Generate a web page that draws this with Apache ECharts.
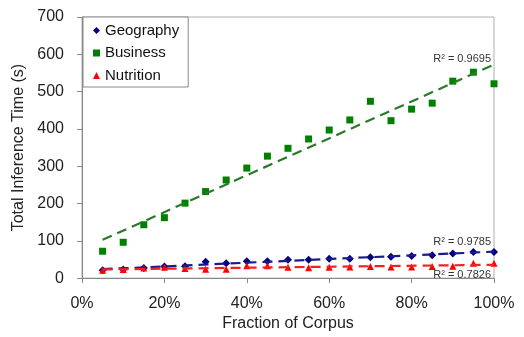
<!DOCTYPE html>
<html>
<head>
<meta charset="utf-8">
<script src="https://cdn.jsdelivr.net/npm/echarts@6/dist/echarts.min.js"></script>
<style>
  html, body { margin: 0; padding: 0; background: #fff; }
  #chart { width: 524px; height: 337px; }
</style>
</head>
<body>
<div id="chart"></div>
<script>
// Fraction of corpus used (x values)
const fractions = [0.05, 0.10, 0.15, 0.20, 0.25, 0.30, 0.35, 0.40, 0.45, 0.50,
                   0.55, 0.60, 0.65, 0.70, 0.75, 0.80, 0.85, 0.90, 0.95, 1.00];

// Total inference time in seconds, per domain
const geography = [21, 23, 27, 31, 32, 44, 40, 45, 45, 49,
                   49, 52, 52, 56, 57, 59, 61, 66, 70, 70];
const business  = [72, 96, 143, 162, 201, 232, 263, 295, 327, 348,
                   373, 397, 424, 474, 422, 453, 469, 528, 552, 521];
const nutrition = [21, 23, 27, 29, 26, 24, 24, 33, 33, 29,
                   28, 29, 30, 31, 30, 30, 31, 32, 40, 40];

// Coefficient of determination shown beside each trend line
const r2Labels = { Geography: 'R² = 0.9785', Business: 'R² = 0.9695', Nutrition: 'R² = 0.7826' };

const xTicks = [0, 0.2, 0.4, 0.6, 0.8, 1.0];

const colors = { Geography: '#000080', Business: '#008000', Nutrition: '#ff0000' };
const trendColors = { Geography: '#1a1a8c', Business: '#2a7a2a', Nutrition: '#ee2222' };

const font = 'Liberation Sans, Arial, sans-serif';

function pairs(ys) { return fractions.map((x, i) => [x, ys[i]]); }

// Least-squares linear fit, evaluated at the first and last x
function linearFit(ys) {
  const n = fractions.length;
  let sx = 0, sy = 0, sxx = 0, sxy = 0;
  for (let i = 0; i < n; i++) {
    sx += fractions[i]; sy += ys[i];
    sxx += fractions[i] * fractions[i]; sxy += fractions[i] * ys[i];
  }
  const b = (n * sxy - sx * sy) / (n * sxx - sx * sx);
  const a = (sy - b * sx) / n;
  const x0 = fractions[0], x1 = fractions[n - 1];
  return [[x0, a + b * x0], [x1, a + b * x1]];
}

function trendSeries(name, ys, labelPos, labelOffset) {
  const ends = linearFit(ys);
  return {
    name: name + ' trend',
    type: 'line',
    data: [
      { value: ends[0] },
      {
        value: ends[1],
        label: {
          show: true,
          formatter: r2Labels[name],
          position: labelPos,
          distance: 4,
          align: 'right',
          offset: labelOffset,
          color: '#333',
          fontSize: 11,
          fontFamily: font
        }
      }
    ],
    showSymbol: true,
    symbol: 'circle',
    symbolSize: 0.01,
    itemStyle: { color: 'rgba(0,0,0,0)' },
    silent: true,
    z: 3,
    lineStyle: { color: trendColors[name], width: 2.2, type: [10, 6] },
    animation: false
  };
}

const chart = echarts.init(document.getElementById('chart'), null, { renderer: 'canvas' });
chart.setOption({
  animation: false,
  backgroundColor: '#fff',
  grid: { left: 82, right: 30, top: 17, bottom: 56, show: true, borderColor: '#b0b0b0', borderWidth: 1 },
  legend: {
    data: [
      { name: 'Geography', icon: 'diamond' },
      { name: 'Business', icon: 'rect' },
      { name: 'Nutrition', icon: 'triangle' }
    ],
    orient: 'vertical',
    left: 83,
    top: 17,
    itemWidth: 7,
    itemHeight: 7,
    itemGap: 7.5,
    itemTextGap: 5,
    padding: [6, 9, 4, 10],
    borderColor: '#888',
    borderWidth: 1,
    backgroundColor: '#fff',
    textStyle: { fontSize: 15, color: '#111', fontFamily: font },
    z: 10
  },
  xAxis: {
    type: 'value',
    min: 0,
    max: 1,
    interval: 0.2,
    name: 'Fraction of Corpus',
    nameLocation: 'middle',
    nameGap: 37,
    nameTextStyle: { fontSize: 16, color: '#222', fontFamily: font },
    axisLine: { show: true, lineStyle: { color: '#888' } },
    axisTick: { show: true, inside: false, length: 5, lineStyle: { color: '#888' } },
    axisLabel: {
      fontSize: 16, color: '#222', fontFamily: font, margin: 17,
      formatter: v => Math.round(v * 100) + '%',
      customValues: xTicks
    },
    splitLine: { show: false }
  },
  yAxis: {
    type: 'value',
    min: 0,
    max: 700,
    interval: 100,
    name: 'Total Inference Time (s)',
    nameLocation: 'middle',
    nameGap: 52,
    nameTextStyle: { fontSize: 16, color: '#222', fontFamily: font },
    axisLine: { show: true, lineStyle: { color: '#888' } },
    axisTick: { show: true, inside: false, length: 5, lineStyle: { color: '#888' } },
    axisLabel: { fontSize: 16, color: '#222', fontFamily: font, margin: 18 },
    splitLine: { show: false }
  },
  series: [
    {
      name: 'Business', type: 'scatter', data: pairs(business),
      symbol: 'rect', symbolSize: 7, itemStyle: { color: colors.Business, opacity: 1 }, z: 2
    },
    {
      name: 'Geography', type: 'scatter', data: pairs(geography),
      symbol: 'diamond', symbolSize: 8, itemStyle: { color: colors.Geography, opacity: 1 }, z: 2
    },
    {
      name: 'Nutrition', type: 'scatter', data: pairs(nutrition),
      symbol: 'triangle', symbolSize: 7, itemStyle: { color: colors.Nutrition, opacity: 1 }, z: 2
    },
    trendSeries('Business', business, 'top', [-3, 4]),
    trendSeries('Geography', geography, 'top', [-3, 0]),
    trendSeries('Nutrition', nutrition, 'bottom', [-3, 1])
  ]
});
</script>
</body>
</html>
